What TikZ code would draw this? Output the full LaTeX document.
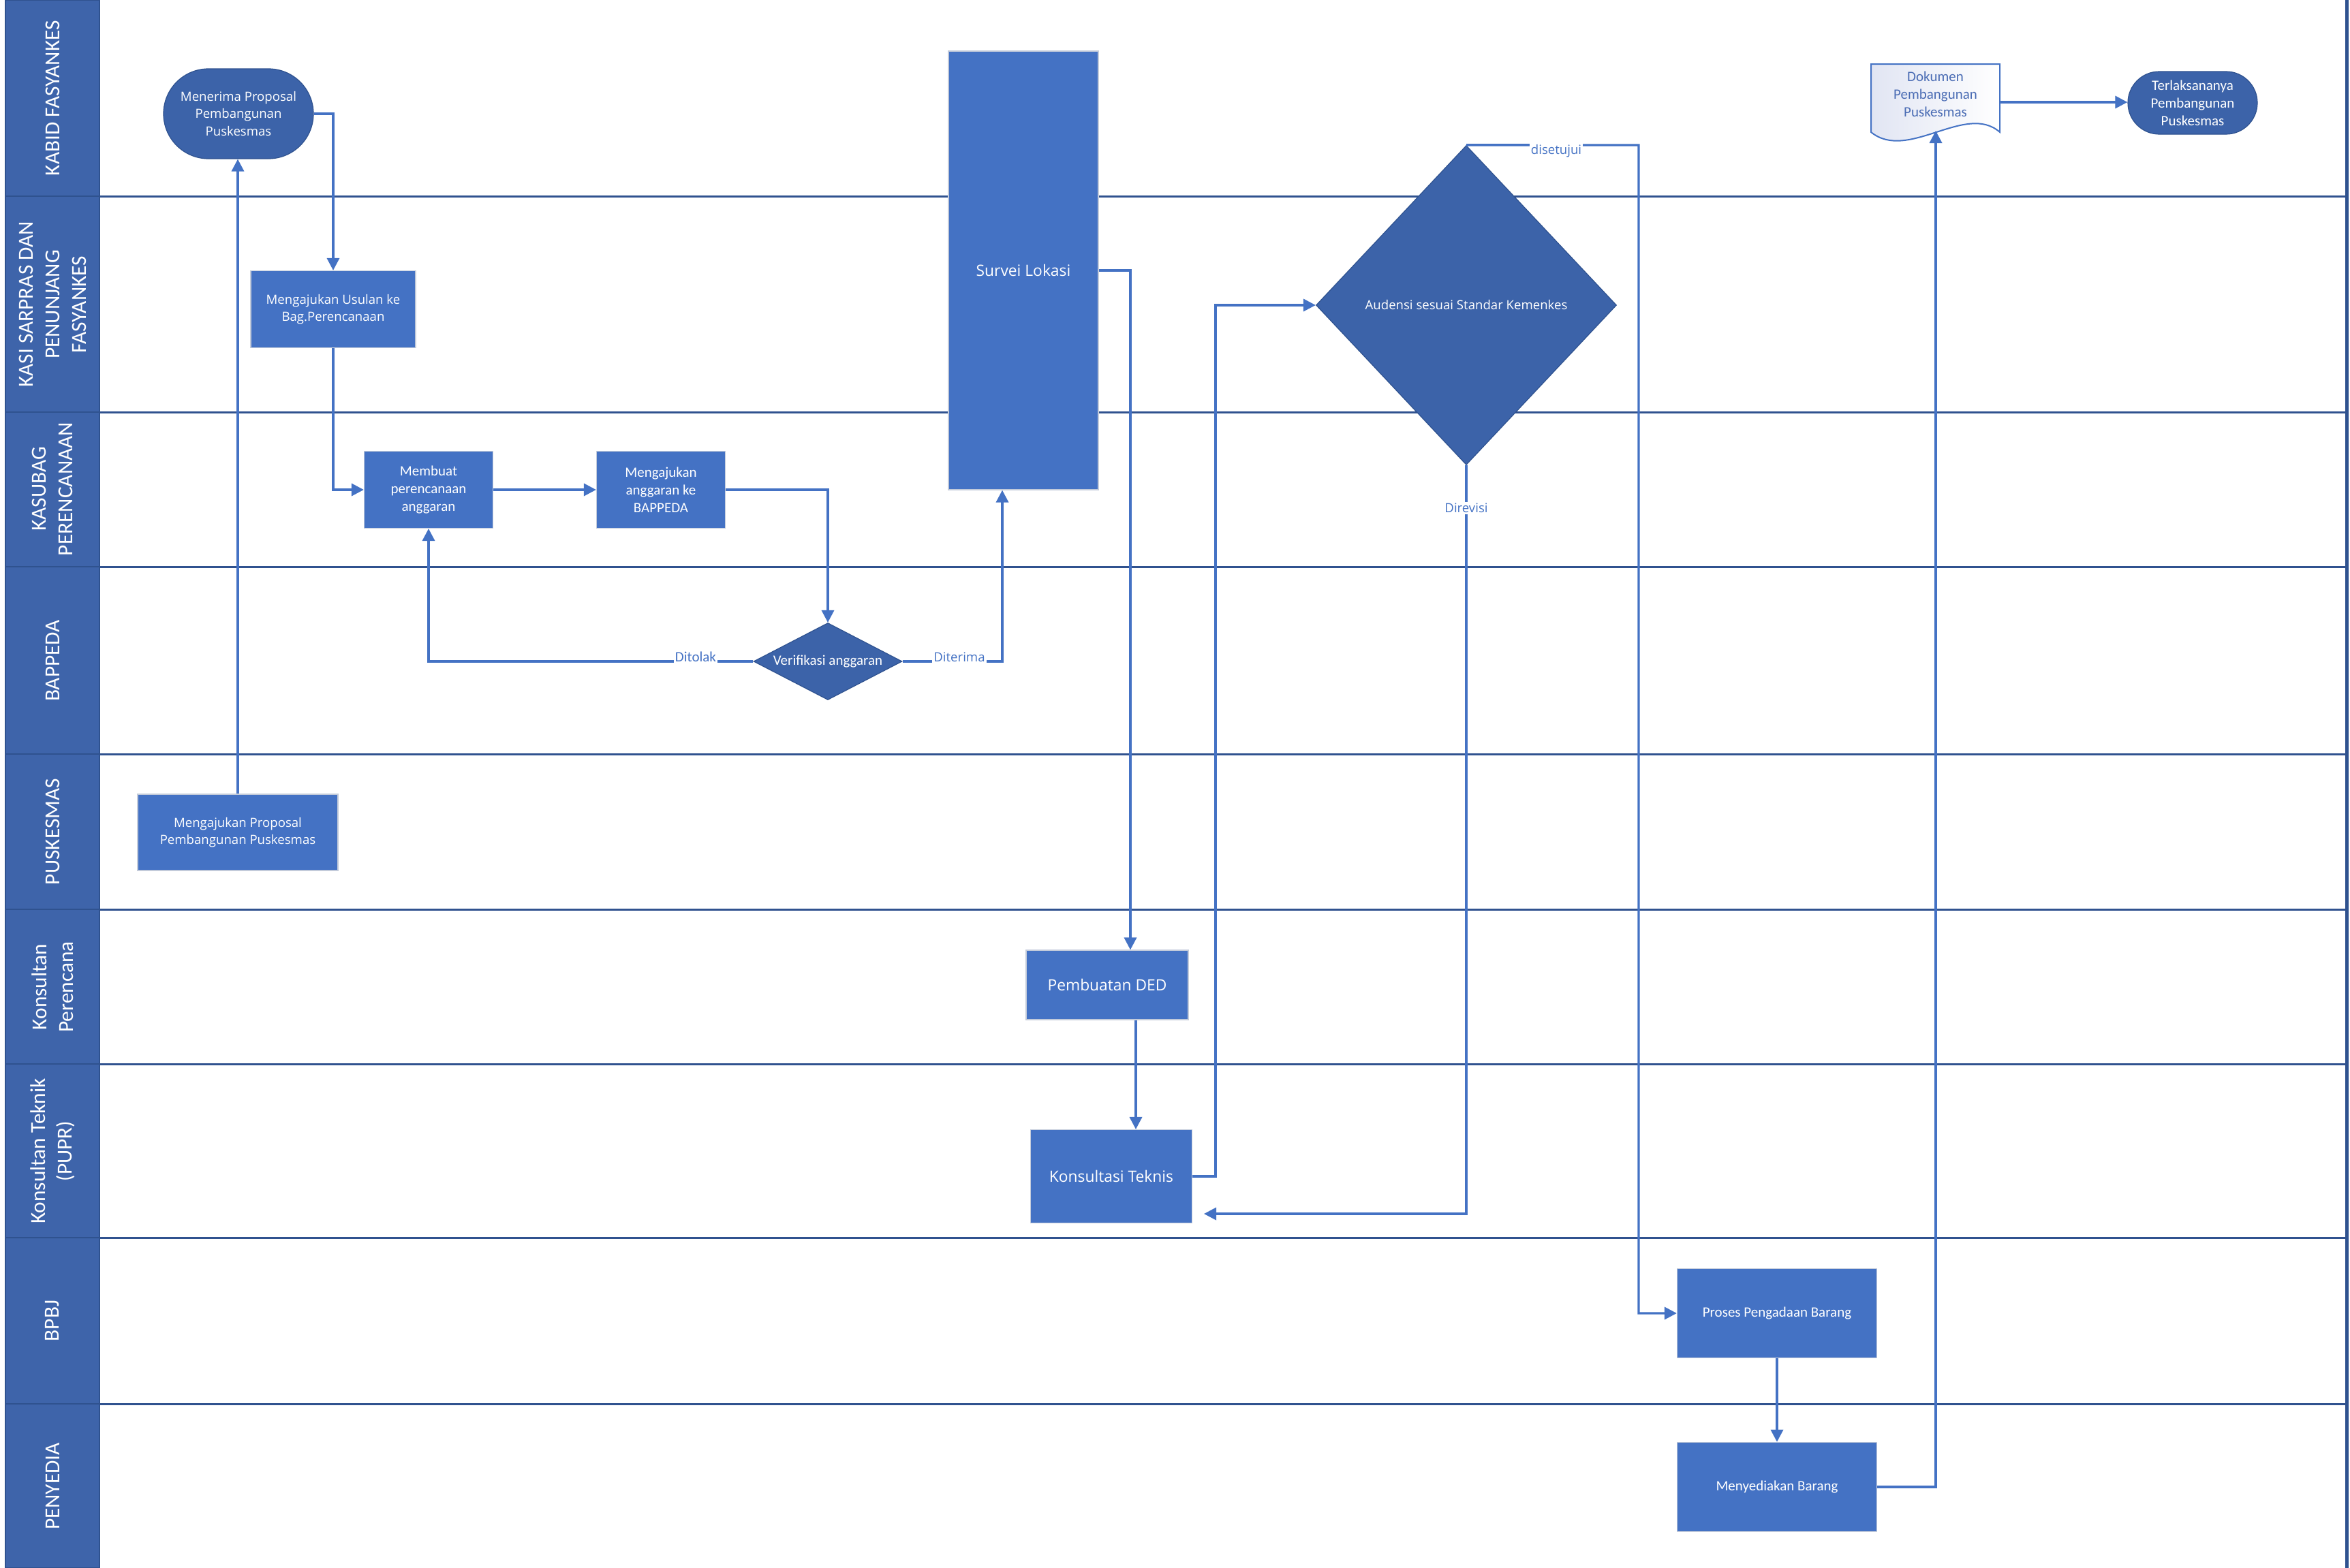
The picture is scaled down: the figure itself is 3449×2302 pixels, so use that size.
\documentclass[tikz,border=0pt]{standalone}
\usepackage{fontspec}
\setmainfont{Open Sans}
\newfontfamily\calib{Carlito}
\usetikzlibrary{arrows.meta,shapes.geometric,calc}
\definecolor{boxblue}{HTML}{4472C4}
\definecolor{darkblue}{HTML}{3C63A9}
\definecolor{edgeblue}{HTML}{2F528F}
\definecolor{laneline}{HTML}{30528F}
\definecolor{hdrfill}{HTML}{3E64AA}
\definecolor{boxedge}{HTML}{C3CBDA}
\definecolor{dokfill}{HTML}{E1E5F3}
\definecolor{doktext}{HTML}{4A6CB4}
\begin{document}
\begin{tikzpicture}[x=0.5pt,y=-0.5pt,
 procbox/.style={rectangle, fill=boxblue, draw=boxedge, line width=0.6pt, text=white, align=center, inner sep=2pt},
 segtxt/.style={font=\fontsize{9.3}{12.8}\selectfont},
 bigtxt/.style={font=\fontsize{11.4}{14}\selectfont},
 caltxt/.style={font=\calib\fontsize{10.5}{13}\selectfont},
 termbox/.style={rectangle, fill=darkblue, draw=edgeblue, line width=0.6pt, text=white, align=center, inner sep=1pt},
 decbox/.style={diamond, fill=darkblue, draw=edgeblue, line width=0.6pt, text=white, align=center, inner sep=0pt},
 conn/.style={draw=boxblue, line width=1.7pt, -{Triangle[length=9pt,width=9pt]}},
 edgelbl/.style={text=boxblue, fill=white, inner sep=1pt},
 lanehdr/.style={fill=hdrfill, draw=edgeblue, line width=1pt},
 lanetxt/.style={rotate=90, text=white, align=center, font=\calib\fontsize{15.7}{19.5}\selectfont},
 lanesep/.style={draw=laneline, line width=1.5pt},
]
\useasboundingbox (0,0) rectangle (3449,2302);
\fill[white] (0,0) rectangle (3449,2302);

% ---------- lane headers ----------
\path[lanehdr] (8,0) rectangle (146,288);
\path[lanehdr] (8,288) rectangle (146,605);
\path[lanehdr] (8,605) rectangle (146,832);
\path[lanehdr] (8,832) rectangle (146,1107);
\path[lanehdr] (8,1107) rectangle (146,1335);
\path[lanehdr] (8,1335) rectangle (146,1562);
\path[lanehdr] (8,1562) rectangle (146,1817);
\path[lanehdr] (8,1817) rectangle (146,2061);
\path[lanehdr] (8,2061) rectangle (146,2302);

\node[lanetxt] (h1) at (77,144) {KABID FASYANKES};
\node[lanetxt] (h2) at (77,447) {KASI SARPRAS DAN\\PENUNJANG\\FASYANKES};
\node[lanetxt] (h3) at (77,718) {KASUBAG\\PERENCANAAN};
\node[lanetxt] (h4) at (77,970) {BAPPEDA};
\node[lanetxt] (h5) at (77,1221) {PUSKESMAS};
\node[lanetxt] (h6) at (77,1449) {Konsultan\\Perencana};
\node[lanetxt] (h7) at (77,1690) {Konsultan Teknik\\(PUPR)};
\node[lanetxt] (h8) at (77,1939) {BPBJ};
\node[lanetxt] (h9) at (77,2182) {PENYEDIA};

% ---------- lane separators ----------
\foreach \yy in {288,605,832,1107,1335,1562,1817,2061}
  \draw[lanesep] (146,\yy) -- (3444,\yy);
\draw[draw=edgeblue, line width=2.5pt] (3444,0) -- (3444,2302);

% ---------- nodes ----------
\node[termbox, segtxt, minimum width=110pt, minimum height=66pt, rounded corners=33pt] (menerima) at (350,167) {Menerima Proposal\\Pembangunan\\Puskesmas};
\node[procbox, segtxt, minimum width=121pt, minimum height=56.5pt] (usulan) at (489,454) {Mengajukan Usulan ke\\Bag.Perencanaan};
\node[procbox, caltxt, minimum width=94.5pt, minimum height=56.5pt] (membuat) at (629,719) {Membuat\\perencanaan\\anggaran};
\node[procbox, caltxt, minimum width=94.5pt, minimum height=56.5pt] (ajukan) at (970,719) {Mengajukan\\anggaran ke\\BAPPEDA};
\node[decbox, caltxt, minimum width=109pt, minimum height=56.5pt, shape aspect=1.93] (verif) at (1215,971) {Verifikasi anggaran};
\node[procbox, bigtxt, minimum width=110pt, minimum height=322pt] (survei) at (1502,397) {Survei Lokasi};
\node[decbox, segtxt, minimum width=220.5pt, minimum height=234.5pt, shape aspect=0.94] (aud) at (2152,448) {Audensi sesuai Standar Kemenkes};
\node[procbox, segtxt, minimum width=147pt, minimum height=56pt] (pusk) at (349,1222) {Mengajukan Proposal\\Pembangunan Puskesmas};
\node[procbox, bigtxt, minimum width=119pt, minimum height=51pt] (ded) at (1625,1446) {Pembuatan DED};
\node[procbox, bigtxt, minimum width=118.5pt, minimum height=68.5pt] (kons) at (1631,1727) {Konsultasi Teknis};
\node[procbox, caltxt, minimum width=146.5pt, minimum height=65.5pt] (proses) at (2608,1928) {Proses Pengadaan Barang};
\node[procbox, caltxt, minimum width=146.5pt, minimum height=65.5pt] (meny) at (2608,2183) {Menyediakan Barang};

% document shape
\path[draw=boxblue, line width=1pt, left color=dokfill, right color=white]
  (2746,94) -- (2935,94) -- (2935,194) .. controls (2885,150) and (2800,238) .. (2746,194) -- cycle;
\node[caltxt, text=doktext, align=center, minimum width=94.5pt, inner sep=0pt] (dok) at (2840.5,138) {Dokumen\\Pembangunan\\Puskesmas};
\coordinate (dokin) at (2841,192);

\node[termbox, caltxt, minimum width=95pt, minimum height=46pt, rounded corners=23pt] (akhir) at (3218,151) {Terlaksananya\\Pembangunan\\Puskesmas};

% ---------- connectors ----------
\draw[conn] (pusk.north) -- (pusk.north |- menerima.south);
\draw[conn] (menerima.east) -| (usulan.north);
\draw[conn] (usulan.south) |- (membuat.west);
\draw[conn] (membuat.east) -- (ajukan.west);
\draw[conn] (ajukan.east) -| (verif.north);
\draw[conn] (verif.west) -| (membuat.south);
\draw[conn] (verif.east) -| ([xshift=-15.5pt]survei.south);
\draw[conn] (survei.east) -| ([xshift=17pt]ded.north);
\draw[conn] ([xshift=21pt]ded.south) -- ([xshift=21pt]ded.south |- kons.north);
\draw[conn] (kons.east) -- ++(17pt,0) |- (aud.west);
\coordinate (setuju) at (2405,213);
\draw[conn] (aud.north) -- (setuju) |- (proses.west);
\coordinate (revtip) at (1767,1782);
\draw[conn] (aud.south) |- (revtip);
\draw[conn] (proses.south) -- (meny.north);
\draw[conn] (meny.east) -| (dokin);
\draw[conn] (2935,150) -- (akhir.west |- 0,150);

% ---------- connector labels ----------
\node[edgelbl, caltxt, anchor=south] (lbltolak) at (1021,974) {Ditolak};
\node[edgelbl, segtxt, anchor=south] (lblterima) at (1408,974) {Diterima};
\node[edgelbl, segtxt, anchor=north] (lblsetuju) at (2284,210) {disetujui};
\node[edgelbl, segtxt] (lblrevisi) at (2152,746) {Direvisi};
\end{tikzpicture}
\end{document}
